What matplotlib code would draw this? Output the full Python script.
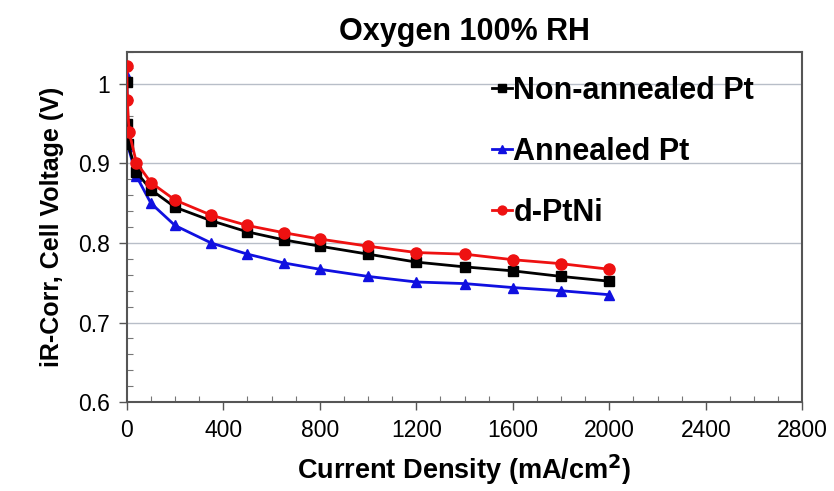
import numpy as np
import matplotlib.pyplot as plt
from matplotlib.ticker import MultipleLocator

plt.rcParams['font.family'] = ['Liberation Sans', 'DejaVu Sans']

# Data
x_nonann = [0, 2, 5, 40, 100, 200, 350, 500, 650, 800, 1000, 1200, 1400, 1600, 1800, 2000]
v_nonann = [1.002, 0.950, 0.924, 0.889, 0.867, 0.845, 0.828, 0.814, 0.804, 0.796,
            0.786, 0.776, 0.770, 0.765, 0.758, 0.752]

x_ann = [0, 2, 5, 40, 100, 200, 350, 500, 650, 800, 1000, 1200, 1400, 1600, 1800, 2000]
v_ann = [1.010, 0.950, 0.922, 0.884, 0.850, 0.822, 0.800, 0.786, 0.775, 0.767,
         0.758, 0.751, 0.749, 0.744, 0.740, 0.735]

x_ptni = [0, 2, 10, 40, 100, 200, 350, 500, 650, 800, 1000, 1200, 1400, 1600, 1800, 2000]
v_ptni = [1.022, 0.980, 0.939, 0.901, 0.876, 0.854, 0.835, 0.822, 0.813, 0.805,
          0.796, 0.788, 0.786, 0.779, 0.774, 0.767]

fig = plt.figure(figsize=(8.34, 4.91), dpi=100)
ax = fig.add_axes([0.152, 0.181, 0.810, 0.713])

ax.plot(x_nonann, v_nonann, color='black', marker='s', markersize=7, lw=2,
        label='Non-annealed Pt', zorder=3)
ax.plot(x_ann, v_ann, color='#1010e0', marker='^', markersize=7, lw=2,
        label='Annealed Pt', zorder=2)
ax.plot(x_ptni, v_ptni, color='#ee1111', marker='o', markersize=8, lw=2,
        label='d-PtNi', zorder=4)

ax.set_xlim(0, 2800)
ax.set_ylim(0.6, 1.04)
ax.xaxis.set_major_locator(MultipleLocator(400))
ax.xaxis.set_minor_locator(MultipleLocator(100))
ax.yaxis.set_minor_locator(MultipleLocator(0.02))
ax.set_yticks([0.6, 0.7, 0.8, 0.9, 1.0])
ax.set_yticklabels(['0.6', '0.7', '0.8', '0.9', '1'])

ax.tick_params(which='major', direction='out', length=6, width=1, color='#555555',
               labelsize=16.5, pad=6)
ax.tick_params(which='minor', direction='in', length=4, width=0.8, color='#777777')
ax.grid(axis='y', which='major', color='#b8bec8', lw=1)
ax.set_axisbelow(True)
for s in ax.spines.values():
    s.set_color('#555555')
    s.set_linewidth(1.5)

ax.set_xlabel(r'Current Density (mA/cm$^\mathbf{2}$)', fontsize=19.5, fontweight='bold',
              labelpad=8)
ax.set_ylabel('iR-Corr, Cell Voltage (V)', fontsize=18, fontweight='bold', labelpad=10)
ax.set_title('Oxygen 100% RH', fontsize=22, fontweight='bold', pad=9)

leg = ax.legend(loc='upper left', bbox_to_anchor=(0.5, 1.011), frameon=False,
                prop={'size': 22, 'weight': 'bold'}, handlelength=0.65,
                handletextpad=0.05, labelspacing=1.02, markerscale=0.8)

fig.savefig('out.png', dpi=100)
